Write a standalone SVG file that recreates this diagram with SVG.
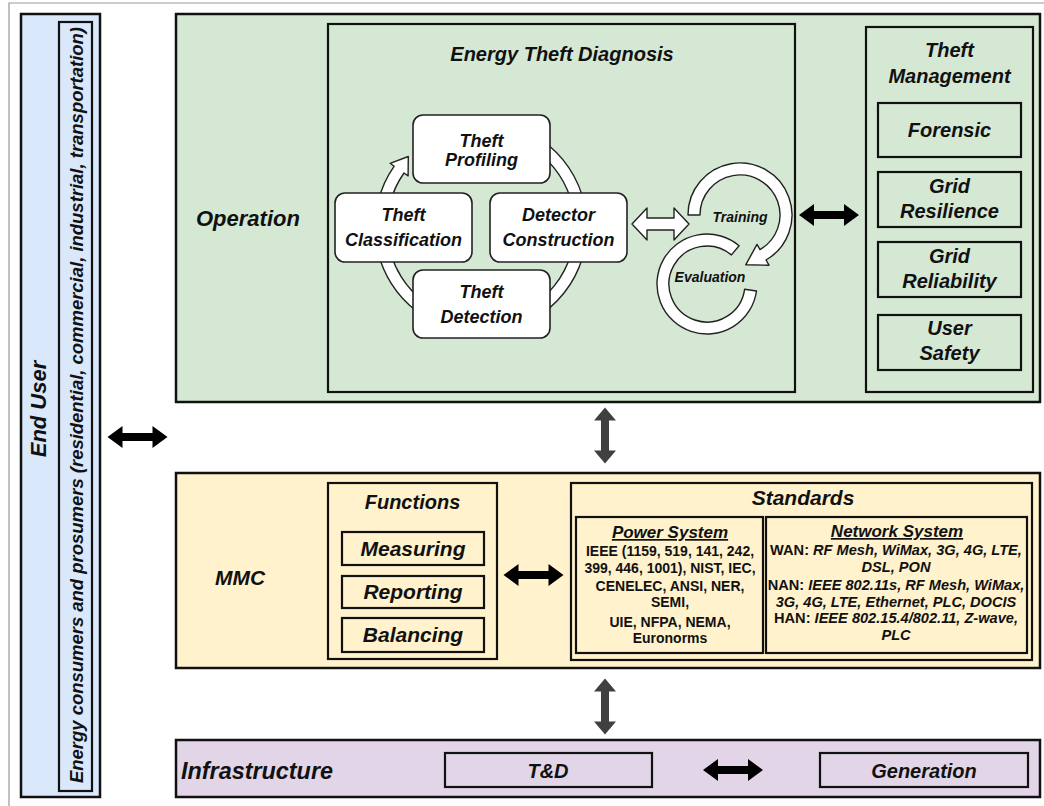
<svg xmlns="http://www.w3.org/2000/svg" width="1044" height="806" viewBox="0 0 1044 806">
  <style>
    .t{font-family:"Liberation Sans",Arial,Helvetica,sans-serif;font-weight:bold;font-style:italic;fill:#111}
    .n{font-style:normal}
    .u{text-decoration:underline}
    .mid{text-anchor:middle}
    .frame{fill:none;stroke:#999;stroke-width:1.2}
    .layer{stroke:#111;stroke-width:2.5}
    .sub{fill:none;stroke:#111;stroke-width:2.2}
    .step{fill:#fff;stroke:#222;stroke-width:1.6}
    .ring{fill:#fff;stroke:#222;stroke-width:1.4;stroke-linejoin:round}
    .blk{fill:#000}
    .gry{fill:#404040}
  </style>
  <defs>
    <!-- horizontal two-headed arrow, 60 long, centred on origin -->
    <path id="dbl" d="M-30,0 L-15,-11 L-15,-4 L15,-4 L15,-11 L30,0 L15,11 L15,4 L-15,4 L-15,11 Z"/>
    <!-- vertical two-headed arrow, 56 long, centred on origin -->
    <path id="vdbl" d="M0,-28 L11,-15 L4,-15 L4,15 L11,15 L0,28 L-11,15 L-4,15 L-4,-15 L-11,-15 Z"/>
  </defs>

  <!-- outer frame -->
  <path class="frame" d="M9,806 L9,3 L1044,3"/>

  <!-- End user column -->
  <g id="end-user">
    <rect x="21" y="14" width="79" height="783" fill="#dae8fc" class="layer"/>
    <rect x="59" y="22" width="33" height="769" fill="none" class="sub"/>
    <text class="t mid" font-size="22" transform="translate(46,409) rotate(-90)">End User</text>
    <text class="t mid" font-size="18.5" textLength="756" lengthAdjust="spacingAndGlyphs" transform="translate(83,405) rotate(-90)">Energy consumers and prosumers (residential, commercial, industrial, transportation)</text>
  </g>

  <!-- Operation layer -->
  <g id="operation">
    <rect x="176" y="14" width="864" height="388" fill="#d5e8d4" class="layer"/>
    <text class="t" x="196" y="226" font-size="22">Operation</text>
  </g>

  <g id="theft-diagnosis">
    <rect x="328" y="24" width="467" height="368" fill="none" class="sub"/>
    <text class="t mid" x="562" y="61" font-size="20">Energy Theft Diagnosis</text>

    <!-- clockwise cycle ring behind the four steps -->
    <path class="ring" d="M549.1,145.8 A106,106 0 1 1 394.2,166.2 L390.1,163.3 L408.3,156.5 L408.1,175.9 L404,173 A94,94 0 1 0 541.4,155 Z"/>

    <g id="theft-profiling">
      <rect class="step" x="413" y="115" width="137" height="68" rx="10"/>
      <text class="t mid" x="481.5" y="147" font-size="18">Theft</text>
      <text class="t mid" x="481.5" y="166" font-size="18">Profiling</text>
    </g>
    <g id="theft-classification">
      <rect class="step" x="335" y="193" width="137" height="69" rx="10"/>
      <text class="t mid" x="403.5" y="221" font-size="18">Theft</text>
      <text class="t mid" x="403.5" y="246" font-size="18">Classification</text>
    </g>
    <g id="detector-construction">
      <rect class="step" x="490" y="193" width="137" height="69" rx="10"/>
      <text class="t mid" x="558.5" y="221" font-size="18">Detector</text>
      <text class="t mid" x="558.5" y="246" font-size="18">Construction</text>
    </g>
    <g id="theft-detection">
      <rect class="step" x="413" y="270" width="137" height="68" rx="10"/>
      <text class="t mid" x="481.5" y="298" font-size="18">Theft</text>
      <text class="t mid" x="481.5" y="323" font-size="18">Detection</text>
    </g>

    <!-- training / evaluation loop -->
    <g id="evaluation">
      <path class="ring" d="M756.5,291 A50,50 0 1 1 739.1,245.7 L731.4,254.9 A38,38 0 1 0 744.6,289.3 Z"/>
      <text class="t mid" x="710" y="282" font-size="14">Evaluation</text>
    </g>
    <g id="training">
      <path class="ring" d="M688,215 A52,52 0 1 1 766,260 L769,265.2 L745.7,264.8 L757,244.4 L760,249.6 A40,40 0 1 0 700,215 Z"/>
      <text class="t mid" x="740" y="222" font-size="14">Training</text>
    </g>
  </g>

  <g id="theft-management">
    <rect x="866" y="27" width="167" height="365" fill="none" class="sub"/>
    <text class="t mid" x="949.5" y="57" font-size="20">Theft</text>
    <text class="t mid" x="949.5" y="83" font-size="20">Management</text>
    <g id="forensic">
      <rect class="sub" x="878" y="103" width="143" height="54"/>
      <text class="t mid" x="949.5" y="137" font-size="20">Forensic</text>
    </g>
    <g id="grid-resilience">
      <rect class="sub" x="878" y="172" width="143" height="55"/>
      <text class="t mid" x="949.5" y="193" font-size="20">Grid</text>
      <text class="t mid" x="949.5" y="218" font-size="20">Resilience</text>
    </g>
    <g id="grid-reliability">
      <rect class="sub" x="878" y="242" width="143" height="55"/>
      <text class="t mid" x="949.5" y="263" font-size="20">Grid</text>
      <text class="t mid" x="949.5" y="288" font-size="20">Reliability</text>
    </g>
    <g id="user-safety">
      <rect class="sub" x="878" y="315" width="143" height="55"/>
      <text class="t mid" x="949.5" y="335" font-size="20">User</text>
      <text class="t mid" x="949.5" y="360" font-size="20">Safety</text>
    </g>
  </g>

  <!-- MMC layer -->
  <g id="mmc">
    <rect x="176" y="473" width="864" height="195" fill="#fff2cc" class="layer"/>
    <text class="t" x="215" y="585" font-size="21">MMC</text>
  </g>

  <g id="functions">
    <rect class="sub" x="328" y="483" width="169" height="176"/>
    <text class="t mid" x="412.5" y="509" font-size="20">Functions</text>
    <g id="measuring">
      <rect class="sub" x="342" y="532" width="142" height="33"/>
      <text class="t mid" x="413" y="556" font-size="21">Measuring</text>
    </g>
    <g id="reporting">
      <rect class="sub" x="342" y="576" width="142" height="32"/>
      <text class="t mid" x="413" y="599" font-size="21">Reporting</text>
    </g>
    <g id="balancing">
      <rect class="sub" x="342" y="618" width="142" height="34"/>
      <text class="t mid" x="413" y="642" font-size="21">Balancing</text>
    </g>
  </g>

  <g id="standards">
    <rect class="sub" x="571" y="483" width="461" height="177"/>
    <text class="t mid" x="803" y="505" font-size="21">Standards</text>
    <g id="power-system">
      <rect class="sub" x="576" y="517" width="187" height="136"/>
      <text class="t mid u" x="670" y="538" font-size="17">Power System</text>
      <g class="t n mid" font-size="14">
        <text x="670" y="556">IEEE (1159, 519, 141, 242,</text>
        <text x="670" y="573">399, 446, 1001), NIST, IEC,</text>
        <text x="670" y="591">CENELEC, ANSI, NER,</text>
        <text x="670" y="607">SEMI,</text>
        <text x="670" y="627">UIE, NFPA, NEMA,</text>
        <text x="670" y="643">Euronorms</text>
      </g>
    </g>
    <g id="network-system">
      <rect class="sub" x="766" y="517" width="261" height="136"/>
      <text class="t mid u" x="897" y="537" font-size="17">Network System</text>
      <g class="t mid" font-size="14.6">
        <text x="896" y="555"><tspan class="n">WAN: </tspan>RF Mesh, WiMax, 3G, 4G, LTE,</text>
        <text x="896" y="572">DSL, PON</text>
        <text x="896" y="590"><tspan class="n">NAN: </tspan>IEEE 802.11s, RF Mesh, WiMax,</text>
        <text x="896" y="607">3G, 4G, LTE, Ethernet, PLC, DOCIS</text>
        <text x="896" y="623"><tspan class="n">HAN: </tspan>IEEE 802.15.4/802.11, Z-wave,</text>
        <text x="896" y="640">PLC</text>
      </g>
    </g>
  </g>

  <!-- Infrastructure layer -->
  <g id="infrastructure">
    <rect x="176" y="740" width="864" height="57" fill="#e1d5e7" class="layer"/>
    <text class="t" x="181" y="779" font-size="23" textLength="152" lengthAdjust="spacingAndGlyphs">Infrastructure</text>
  </g>
  <g id="t-and-d">
    <rect class="sub" x="445" y="753" width="207" height="34"/>
    <text class="t mid" x="548" y="778" font-size="20">T&amp;D</text>
  </g>
  <g id="generation">
    <rect class="sub" x="820" y="753" width="208" height="34"/>
    <text class="t mid" x="924" y="778" font-size="20">Generation</text>
  </g>

  <!-- connectors -->
  <g id="connectors">
    <use href="#dbl" class="blk" transform="translate(137.5,437)"/>
    <use href="#dbl" class="blk" transform="translate(829,215)"/>
    <use href="#dbl" class="blk" transform="translate(533.5,575)"/>
    <use href="#dbl" class="blk" transform="translate(733,770)"/>
    <use href="#vdbl" class="gry" transform="translate(605,435.5)"/>
    <use href="#vdbl" class="gry" transform="translate(605,706.5)"/>
    <!-- hollow link between the cycle and the training loop -->
    <path class="ring" d="M632,224 L647,208 L647,218 L674,218 L674,208 L689,224 L674,240 L674,230 L647,230 L647,240 Z"/>
  </g>
</svg>
